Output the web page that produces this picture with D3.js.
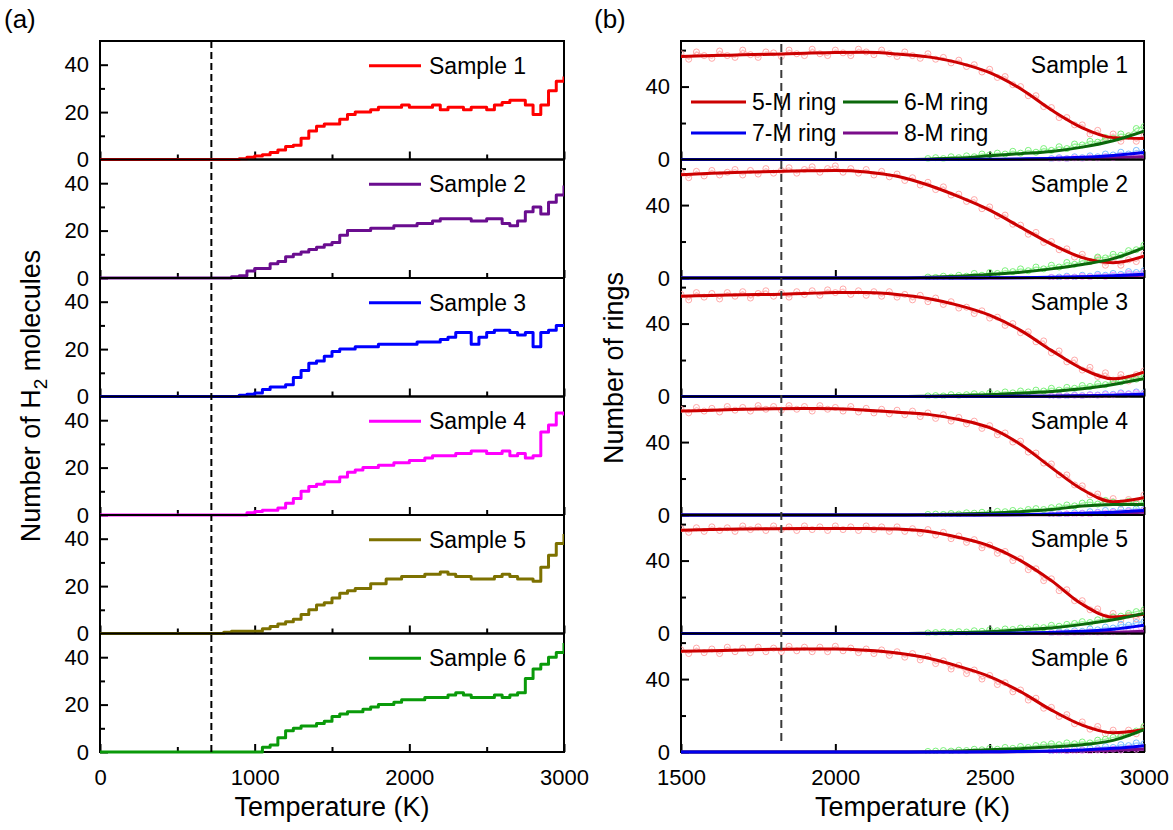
<!DOCTYPE html>
<html>
<head>
<meta charset="utf-8">
<script src="https://cdn.jsdelivr.net/npm/d3@7/dist/d3.min.js"></script>
<style>
  body { margin: 0; background: #fff; }
  text { font-family: Arial, "Liberation Sans", sans-serif; fill: #000; }
</style>
</head>
<body>
<svg id="chart" width="1173" height="830"></svg>
<script>
// ---------- panel (a): H2 molecules vs temperature ----------
const h2Temps = [0, 50, 100, 150, 200, 250, 300, 350, 400, 450, 500, 550, 600, 650, 700, 750, 800, 850, 900, 950,
    1000, 1050, 1100, 1150, 1200, 1250, 1300, 1350, 1400, 1450, 1500, 1550, 1600, 1650, 1700, 1750, 1800, 1850, 1900, 1950,
    2000, 2050, 2100, 2150, 2200, 2250, 2300, 2350, 2400, 2450, 2500, 2550, 2600, 2650, 2700, 2750, 2800, 2850, 2900, 2950, 3000];

const h2Sample1 = [0,0,0,0,0,0,0,0,0,0,0,0,0,0,0,0,0,0,
    0.3,1,1.5,2,3,4,5.5,6,9,12, 14,15,15,17,19,20,20,21,22,22, 22,23,22,22,22,23,21,22,22,21, 22,22,21,23,24,25,25,23,19,23, 29,33,35];
const h2Sample2 = [0,0,0,0,0,0,0,0,0,0,0,0,0,0,0,0,0,
    0.5,1,3,4,4,6,7,9,10,11, 12,13,14,15,18,20,20,20,21,21, 21,22,22,22,23,23,24,25,25,25, 25,24,24,25,25,23,22,24,28,30, 27,32,35,39];
const h2Sample3 = [0,0,0,0,0,0,0,0,0,0,0,0,0,0,0,0,0,0,
    0.5,1,1.5,3,4,4,5,8,11,14, 15,17,19,20,20,21,21,21,22,22, 22,22,22,23,23,23,24,25,27,27, 22,25,27,28,28,27,26,27,21,27, 28,30,30];
const h2Sample4 = [0,0,0,0,0,0,0,0,0,0,0,0,0,0,0,0,0,0,0,
    1,1.5,2,2,3,5,7,10,12,13, 14,14,16,18,19,20,20,21,21,22, 22,23,23,24,25,25,25,26,26,27, 27,26,26,27,25,26,24,25,35,38, 43,42];
const h2Sample5 = [0,0,0,0,0,0,0,0,0,0,0,0,0,0,0,0,
    0.5,1,1,1,1,2,3,4,5,6, 8,10,12,13,15,17,18,19,19,21, 21,23,23,24,24,24,25,25,26,25, 24,24,23,23,23,24,25,24,23,23, 22,28,33,38,42];
const h2Sample6 = [0,0,0,0,0,0,0,0,0,0,0,0,0,0,0,0,0,0,0,0,0,
    2,3,6,9,10,11,11,12,13,15, 16,17,17,18,19,20,20,21,22,22, 22,23,23,23,24,25,24,23,23,23, 24,23,24,25,31,35,37,40,42,46];

const h2Series = [h2Sample1, h2Sample2, h2Sample3, h2Sample4, h2Sample5, h2Sample6];
const sampleNames = ["Sample 1", "Sample 2", "Sample 3", "Sample 4", "Sample 5", "Sample 6"];
const h2Colors = ["#ff0000", "#6a0d8f", "#0000ff", "#ff00ff", "#7d7100", "#0a9a0a"];
const h2XMajor = [0, 1000, 2000, 3000];
const h2XMinor = [500, 1500, 2500];
const h2YMajor = [0, 20, 40];
const h2YMinor = [10, 30];
const h2Onset = 720;

// ---------- panel (b): ring counts vs temperature ----------
const fitTemps = [1500, 1600, 1700, 1800, 1900, 2000, 2100, 2200, 2300, 2400, 2500, 2600, 2700, 2800, 2900, 3000];
const fit5M = [
    [56.5, 57, 57.4, 57.8, 58.3, 58.7, 58.8, 57.9, 56.3, 53, 47.6, 38.8, 27.2, 17.4, 12, 11.5],
    [56.7, 57.4, 58, 58.4, 58.8, 59, 58.2, 55.8, 51, 44.6, 37.2, 27.9, 18.6, 11.2, 8.4, 12],
    [55, 55.4, 55.8, 56, 56.5, 57, 57, 56, 53.8, 50, 44.6, 36.3, 25.3, 15.2, 9.7, 13.4],
    [57, 57.5, 58, 58.3, 58.4, 58.3, 57.5, 56.4, 55.2, 52.4, 47.9, 38.7, 26, 14, 7.3, 9.5],
    [56.7, 57, 57.3, 57.5, 57.6, 57.6, 57.6, 57.3, 56, 52.7, 48, 40, 29, 16, 9, 10.5],
    [55.2, 55.6, 56, 56.3, 56.5, 56.5, 55.8, 54.3, 51.6, 47, 41.4, 33.1, 23, 14.7, 10.5, 12.3]
];
const fit6M = [
    [0, 0, 0, 0, 0, 0, 0, 0, 0.2, 0.8, 2, 3.2, 4.4, 6.8, 10.3, 15.6],
    [0, 0, 0, 0, 0, 0, 0, 0, 0.4, 1, 1.9, 3.2, 5, 7.4, 10.6, 16.7],
    [0, 0, 0, 0, 0, 0, 0, 0, 0.2, 0.5, 1, 1.8, 2.8, 4.2, 6.6, 9.7],
    [0, 0, 0, 0, 0, 0, 0, 0, 0.2, 0.5, 1, 1.8, 3, 4.9, 5.8, 5.8],
    [0, 0, 0, 0, 0, 0, 0, 0, 0.2, 0.5, 1, 2, 3, 5, 7.5, 11],
    [0, 0, 0, 0, 0, 0, 0, 0, 0.1, 0.5, 1.3, 1.8, 2.8, 4, 6.4, 12.3]
];
const fit7M = [
    [0, 0, 0, 0, 0, 0, 0, 0, 0, 0, 0.1, 0.3, 0.6, 1.2, 2.2, 3.8],
    [0, 0, 0, 0, 0, 0, 0, 0, 0, 0, 0.1, 0.2, 0.4, 0.7, 1.2, 2],
    [0, 0, 0, 0, 0, 0, 0, 0, 0, 0, 0, 0.1, 0.2, 0.4, 0.7, 1.2],
    [0, 0, 0, 0, 0, 0, 0, 0, 0, 0, 0.1, 0.2, 0.5, 0.9, 1.5, 2.5],
    [0, 0, 0, 0, 0, 0, 0, 0, 0, 0, 0.1, 0.3, 0.6, 1.2, 2.3, 4.5],
    [0, 0, 0, 0, 0, 0, 0, 0, 0, 0, 0.1, 0.3, 0.6, 1.1, 2, 3.5]
];
const fit8M = [
    [0, 0, 0, 0, 0, 0, 0, 0, 0, 0, 0, 0.1, 0.3, 0.5, 0.9, 1.5],
    [0, 0, 0, 0, 0, 0, 0, 0, 0, 0, 0, 0.1, 0.2, 0.4, 0.8, 1.5],
    [0, 0, 0, 0, 0, 0, 0, 0, 0, 0, 0, 0.1, 0.2, 0.3, 0.6, 1],
    [0, 0, 0, 0, 0, 0, 0, 0, 0, 0, 0, 0.1, 0.2, 0.4, 0.8, 1.5],
    [0, 0, 0, 0, 0, 0, 0, 0, 0, 0, 0, 0, 0.1, 0.3, 0.6, 1.2],
    [0, 0, 0, 0, 0, 0, 0, 0, 0, 0, 0, 0.1, 0.3, 0.5, 0.9, 1.5]
];

// raw (unsmoothed) counts, drawn as pale open circles
const rawTemps = [1500, 1525, 1550, 1575, 1600, 1625, 1650, 1675, 1700, 1725, 1750, 1775, 1800, 1825, 1850, 1875,
    1900, 1925, 1950, 1975, 2000, 2025, 2050, 2075, 2100, 2125, 2150, 2175, 2200, 2225, 2250, 2275, 2300, 2325, 2350,
    2375, 2400, 2425, 2450, 2475, 2500, 2525, 2550, 2575, 2600, 2625, 2650, 2675, 2700, 2725, 2750, 2775, 2800, 2825,
    2850, 2875, 2900, 2925, 2950, 2975, 3000];
const raw5M = [
    [58,55,59,57,55.5,59.5,57,56,60,57.5,56,59,58.5,56.5,60,58,57,60.5,58,57,60,58.5,57,60.5,59,57.5,60,58,56.5,59,57,55.5,
     58,55,56,53,54.5,51,52,48,49.5,45,45.5,41,40,35,35,29,28.5,23,23,19,19,14,16,11,14,10,13,10,13],
    [58,55,58.5,56,59,56.5,58,59.5,56.5,59,57,60,57.5,59,60.5,57.5,59.5,61,58,60,61.5,58,60,57.5,59.5,56.5,58.5,55.5,57,53.5,
     55,51,52.5,48.5,50,45.5,46,42,43,38,39,34,34.5,29.5,29,24,25,19.5,20,15.5,16,11.5,13,9,11,7,10,7,10,9,13],
    [56,53,57,54.5,56.5,53.5,57,55,57.5,54,56.5,58,55,57,54.5,57.5,56,58,55.5,58.5,57,59,56,58,55.5,57.5,55,57.5,54.5,56,
     53,55.5,52,54,50.5,52,48.5,49,45.5,47,43,43.5,39,40,35,35.5,30,30.5,24,25,19,20,14.5,16,11,13,9,12,8.5,12,14],
    [58,56,59,57,58.5,56.5,59.5,57.5,59,57,60,58,59.5,57.5,60,58,59.5,57,60,58,59,57,59.5,56.5,58.5,56,58,55.5,57.5,55,57,
     54,56,53,55,51.5,53.5,50,51.5,47.5,49,44,45,40,40.5,34.5,34,28.5,28,22,22,16.5,16,11,11.5,7.5,9,6,8.5,7,11],
    [57.5,55.5,58,56,58.5,56.5,58,56,59,57,58.5,56.5,59,57,58.5,56.5,59,57,58.5,56.5,59,57,58.5,56.5,59,57,58.5,56,58.5,56,
     57.5,55,57,54,55.5,52,53.5,50,51.5,47,48.5,44,45,40,41,35,35.5,29,30,23.5,24,18,18,13,13.5,9,11,7.5,10,8,12],
    [56,54,57,54.5,56.5,54,57.5,55,57,54.5,57.5,55,57,55,58,55.5,57.5,55,57.5,55,58,55.5,57,54.5,56.5,54,56,53,55,52,54,
     50.5,52.5,48.5,50,45.5,47.5,43,45,40,42,37,38,33,34,28.5,29.5,24,24.5,19.5,20.5,15.5,16.5,12.5,14,10,12,9,12,10,13.5]
];
const lateTemps = [2300, 2325, 2350, 2375, 2400, 2425, 2450, 2475, 2500, 2525, 2550, 2575, 2600, 2625, 2650, 2675,
    2700, 2725, 2750, 2775, 2800, 2825, 2850, 2875, 2900, 2925, 2950, 2975, 3000];
const raw6M = [
    [0.5,1,0.5,1.5,1,2,1.5,3,2.5,3.5,3,4.5,3.5,5,4,6,5,7,6,8.5,8,10,9.5,12,11.5,14,13,17,18],
    [0.5,0.3,1,0.5,1.5,1,2.5,1.5,3,2.5,4,3.5,5,4,6,5,7,6,8.5,7.5,9.5,9,11.5,11,13,12.5,15,15.5,18],
    [0.3,0.5,0.3,1,0.5,1,1.5,1,2,1.5,2.5,2,3,2.5,3.5,3,4.5,3.5,5,4.5,6,5.5,7,6.5,8.5,8,10,9.5,12],
    [0.3,0.5,0.3,0.8,0.5,1.2,1,1.5,1.2,2,1.8,2.5,2.2,3,3.5,3,4,4.5,5.5,5,6.5,7,6,8,7,6.5,7.5,6,7],
    [0.3,0.5,0.8,0.5,1,0.8,1.5,1.2,2,1.5,2.5,2.2,3,2.5,3.5,3.2,4.5,4,5,5.5,6.5,6,7.5,8,9,9.5,11,12,13],
    [0.3,0.5,0.8,0.5,1,0.8,1.5,1.2,2,1.5,2.5,2,3,2.5,3.5,4,4.5,4,5,4.5,5.5,5,6.5,7,8,8.5,10,11.5,14]
];
const tailTemps = [2700, 2725, 2750, 2775, 2800, 2825, 2850, 2875, 2900, 2925, 2950, 2975, 3000];
const raw7M = [
    [0.5,1,0.5,1.5,1,2,1.5,3,2.5,4,3,5,4],
    [0.3,0.5,1,0.5,1.5,1,2,1.5,2.5,2,3.5,3,4],
    [0,0.5,0.3,0.8,0.5,1,0.8,1.5,1.2,2,1.5,2.5,2],
    [0.3,0.8,0.5,1.2,1,1.8,1.5,2.5,2,3,2.5,3.5,3],
    [0.5,1,0.8,1.5,1.2,2.5,2,3.5,3,5,4.5,6,6.5],
    [0.5,1,0.8,1.5,1.2,2,1.8,3,2.5,4,3.5,5,4.5]
];
const raw8M = [
    [0,0.5,0.3,0.8,0.5,1,0.8,1.5,1,2,1.5,2.5,2],
    [0.3,0,0.5,0.3,0.8,0.5,1.2,0.8,1.5,1.2,2.5,1.8,3],
    [0,0.3,0,0.5,0.3,0.8,0.5,1,0.8,1.5,1.2,2,1.5],
    [0,0.3,0.5,0.3,0.8,0.5,1.2,1,1.5,1.2,2,1.5,2.5],
    [0,0.3,0.2,0.5,0.3,0.8,0.6,1,0.8,1.5,1,2,1.5],
    [0.2,0,0.5,0.3,0.8,0.5,1,0.8,1.5,1,2,1.5,2.5]
];
const ringNames = ["5-M ring", "6-M ring", "7-M ring", "8-M ring"];
const ringLineColors = ["#cc0000", "#0b680b", "#0000ee", "#7a0d8a"];
const ringRawColors = ["#ff9a9a", "#66ee66", "#66b3ff", "#ff88ff"];
const ringXMajor = [1500, 2000, 2500, 3000];
const ringYMajor = [0, 40];
const ringYMinor = [20, 60];
const ringOnset = 1825;

// ---------- layout ----------
const svg = d3.select("#chart");
const plotTop = 41;
const plotBottom = 752;
const panelH = (plotBottom - plotTop) / 6;
const font = "Arial, 'Liberation Sans', sans-serif";

const xA = d3.scaleLinear().domain([0, 3000]).range([100, 564]);
const xB = d3.scaleLinear().domain([1500, 3000]).range([681, 1144]);

function yScale(i, maxVal) {
    return d3.scaleLinear().domain([0, maxVal]).range([plotTop + (i + 1) * panelH, plotTop + i * panelH]);
}

function styleAxis(g, size) {
    g.select(".domain").remove();
    g.selectAll("line").attr("stroke", "#000").attr("stroke-width", 2);
    g.selectAll("text").attr("font-size", size).attr("font-family", font).attr("fill", "#000");
}

function panelFrame(x, y, i, xMajor, xMinor, yMajor, yMinor, showX) {
    var g = svg.append("g");
    var y0 = y.range()[0];
    var x0 = x.range()[0];
    g.append("g").attr("transform", "translate(0," + y0 + ")")
        .call(d3.axisBottom(x).tickValues(xMajor).tickSizeInner(-8).tickSizeOuter(0).tickPadding(17)
            .tickFormat(showX ? d3.format("d") : ""))
        .call(styleAxis, 22);
    if (xMinor.length) {
        g.append("g").attr("transform", "translate(0," + y0 + ")")
            .call(d3.axisBottom(x).tickValues(xMinor).tickSizeInner(-5).tickSizeOuter(0).tickFormat(""))
            .call(styleAxis, 22);
    }
    g.append("g").attr("transform", "translate(" + x0 + ",0)")
        .call(d3.axisLeft(y).tickValues(yMajor).tickSizeInner(-8).tickSizeOuter(0).tickPadding(11))
        .call(styleAxis, 22);
    g.append("g").attr("transform", "translate(" + x0 + ",0)")
        .call(d3.axisLeft(y).tickValues(yMinor).tickSizeInner(-5).tickSizeOuter(0).tickFormat(""))
        .call(styleAxis, 22);
    g.append("rect")
        .attr("x", x0).attr("y", y.range()[1])
        .attr("width", x.range()[1] - x0).attr("height", panelH)
        .attr("fill", "none").attr("stroke", "#000").attr("stroke-width", 2);
    // clip for data
    svg.append("clipPath").attr("id", "clip" + (x === xA ? "a" : "b") + i)
        .append("rect")
        .attr("x", x0).attr("y", y.range()[1] + 1)
        .attr("width", x.range()[1] - x0).attr("height", panelH + 1);
}

// ---------- panel (a) ----------
for (var i = 0; i < 6; i++) {
    var y = yScale(i, 50);
    panelFrame(xA, y, i, h2XMajor, h2XMinor, h2YMajor, h2YMinor, i === 5);
    var line = d3.line().curve(d3.curveStepAfter)
        .x(function(d, k) { return xA(h2Temps[k]); })
        .y(function(d) { return y(d); });
    svg.append("path")
        .attr("clip-path", "url(#clipa" + i + ")")
        .attr("d", line(h2Series[i]))
        .attr("fill", "none")
        .attr("stroke", h2Colors[i])
        .attr("stroke-width", 3)
        .attr("stroke-linejoin", "round");
    // legend
    var ly = y(40) + 1;
    svg.append("line").attr("x1", 369).attr("x2", 421).attr("y1", ly).attr("y2", ly)
        .attr("stroke", h2Colors[i]).attr("stroke-width", 3);
    svg.append("text").attr("x", 429).attr("y", ly).attr("dy", "0.35em")
        .attr("font-size", 23).text(sampleNames[i]);
}
svg.append("line")
    .attr("x1", xA(h2Onset)).attr("x2", xA(h2Onset))
    .attr("y1", plotTop).attr("y2", plotBottom)
    .attr("stroke", "#000").attr("stroke-width", 2).attr("stroke-dasharray", "7,4");

// ---------- panel (b) ----------
function drawRaw(g, temps, vals, y, color) {
    var line = d3.line().x(function(d, k) { return xB(temps[k]); }).y(function(d) { return y(d); });
    g.append("path").attr("d", line(vals)).attr("fill", "none")
        .attr("stroke", color).attr("stroke-width", 1.4).attr("opacity", 0.6);
    g.selectAll(null).data(vals).enter().append("circle")
        .attr("cx", function(d, k) { return xB(temps[k]); })
        .attr("cy", function(d) { return y(d); })
        .attr("r", 3)
        .attr("fill", "none").attr("stroke", color).attr("stroke-width", 1).attr("opacity", 0.85);
}

for (i = 0; i < 6; i++) {
    var yb = yScale(i, 65);
    panelFrame(xB, yb, i, ringXMajor, [], ringYMajor, ringYMinor, i === 5);
    var g = svg.append("g").attr("clip-path", "url(#clipb" + i + ")");
    drawRaw(g, rawTemps, raw5M[i], yb, ringRawColors[0]);
    drawRaw(g, lateTemps, raw6M[i], yb, ringRawColors[1]);
    drawRaw(g, tailTemps, raw7M[i], yb, ringRawColors[2]);
    drawRaw(g, tailTemps, raw8M[i], yb, ringRawColors[3]);
    var fits = [fit5M[i], fit6M[i], fit8M[i], fit7M[i]];
    var fitColors = [ringLineColors[0], ringLineColors[1], ringLineColors[3], ringLineColors[2]];
    var fitLine = d3.line().curve(d3.curveMonotoneX)
        .x(function(d, k) { return xB(fitTemps[k]); })
        .y(function(d) { return yb(d); });
    fits.forEach(function(f, k) {
        g.append("path").attr("d", fitLine(f)).attr("fill", "none")
            .attr("stroke", fitColors[k]).attr("stroke-width", 3);
    });
    svg.append("text").attr("x", 1128).attr("y", yb(65) + 24).attr("dy", "0.35em")
        .attr("text-anchor", "end").attr("font-size", 23).text(sampleNames[i]);
}
svg.append("line")
    .attr("x1", xB(ringOnset)).attr("x2", xB(ringOnset))
    .attr("y1", plotTop + 3).attr("y2", plotBottom - 8)
    .attr("stroke", "#3a3a3a").attr("stroke-width", 2).attr("stroke-dasharray", "8,5");

// ring legend, two columns in the first sub-panel
var legX = [691, 843];
var legY = [102, 133];
ringNames.forEach(function(name, k) {
    var lx = legX[k % 2], lyy = legY[Math.floor(k / 2)];
    svg.append("line").attr("x1", lx).attr("x2", lx + 55).attr("y1", lyy).attr("y2", lyy)
        .attr("stroke", ringLineColors[k]).attr("stroke-width", 3);
    svg.append("text").attr("x", lx + 61).attr("y", lyy).attr("dy", "0.35em")
        .attr("font-size", 23).text(name);
});

// ---------- titles ----------
svg.append("text").attr("x", 4).attr("y", 28).attr("font-size", 26).text("(a)");
svg.append("text").attr("x", 594).attr("y", 28).attr("font-size", 26).text("(b)");

svg.append("text").attr("x", (xA.range()[0] + xA.range()[1]) / 2).attr("y", 816)
    .attr("text-anchor", "middle").attr("font-size", 27).text("Temperature (K)");
svg.append("text").attr("x", (xB.range()[0] + xB.range()[1]) / 2).attr("y", 816)
    .attr("text-anchor", "middle").attr("font-size", 27).text("Temperature (K)");

var yt = svg.append("text").attr("transform", "translate(31,396) rotate(-90)")
    .attr("text-anchor", "middle").attr("dy", "0.35em").attr("font-size", 27);
yt.append("tspan").text("Number of H");
yt.append("tspan").attr("font-size", 19).attr("dy", 7).text("2");
yt.append("tspan").attr("dy", -7).text(" molecules");

svg.append("text").attr("transform", "translate(614,368) rotate(-90)")
    .attr("text-anchor", "middle").attr("dy", "0.35em").attr("font-size", 27).text("Number of rings");
</script>
</body>
</html>
